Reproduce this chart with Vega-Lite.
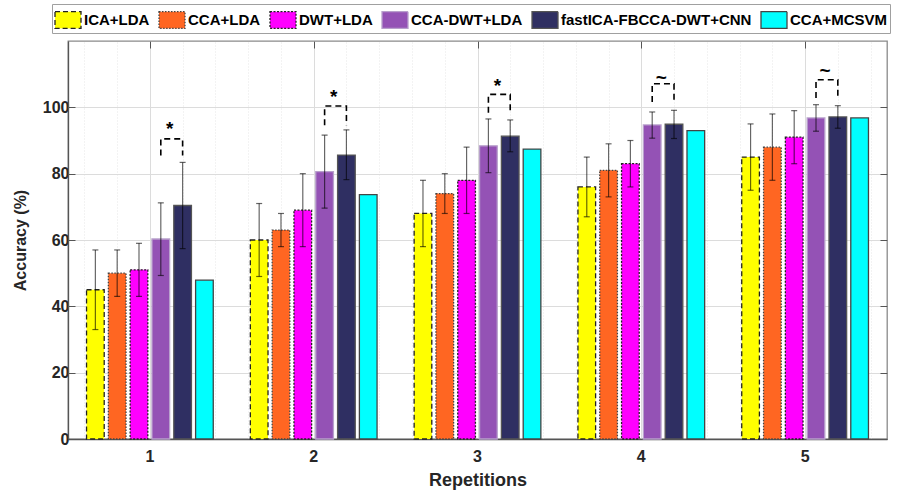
{
  "$schema": "https://vega.github.io/schema/vega-lite/v6.json",
  "width": 819,
  "height": 398,
  "autosize": "none",
  "padding": {"left": 68, "top": 41, "right": 10, "bottom": 52},
  "background": "white",
  "config": {
    "font": "Liberation Sans",
    "view": {"stroke": "#8a8a8a", "strokeWidth": 1.3},
    "axis": {"labelFont": "Liberation Sans", "titleFont": "Liberation Sans", "labelFontWeight": "bold", "titleFontWeight": "bold", "labelColor": "#262626", "titleColor": "#262626", "domainColor": "#8a8a8a", "domainWidth": 1.3, "tickColor": "#555555"},
    "legend": {"labelFont": "Liberation Sans", "labelFontWeight": "bold", "labelFontSize": 15, "labelColor": "#000000", "labelOffset": 2, "labelLimit": 400, "columnPadding": 6, "padding": 2,
      "symbolType": "M-1,-0.64H1V0.64H-1Z", "symbolSize": 676, "symbolStrokeWidth": 1.3, "strokeColor": "#a0a0a0", "fillColor": "white"}
  },
  "datasets": {
    "bars": [
      {"rep": 1, "method": "ICA+LDA", "acc": 45, "lo": 33, "hi": 57},
      {"rep": 1, "method": "CCA+LDA", "acc": 50, "lo": 43, "hi": 57},
      {"rep": 1, "method": "DWT+LDA", "acc": 51, "lo": 43, "hi": 59},
      {"rep": 1, "method": "CCA-DWT+LDA", "acc": 60.3, "lo": 49.3, "hi": 71.2},
      {"rep": 1, "method": "fastICA-FBCCA-DWT+CNN", "acc": 70.4, "lo": 57.4, "hi": 83.4},
      {"rep": 1, "method": "CCA+MCSVM", "acc": 47.9, "lo": null, "hi": null},
      {"rep": 2, "method": "ICA+LDA", "acc": 60, "lo": 49, "hi": 71},
      {"rep": 2, "method": "CCA+LDA", "acc": 63, "lo": 58, "hi": 68},
      {"rep": 2, "method": "DWT+LDA", "acc": 69, "lo": 58, "hi": 80},
      {"rep": 2, "method": "CCA-DWT+LDA", "acc": 80.6, "lo": 69.6, "hi": 91.6},
      {"rep": 2, "method": "fastICA-FBCCA-DWT+CNN", "acc": 85.6, "lo": 78.2, "hi": 93.2},
      {"rep": 2, "method": "CCA+MCSVM", "acc": 73.7, "lo": null, "hi": null},
      {"rep": 3, "method": "ICA+LDA", "acc": 68, "lo": 58, "hi": 78},
      {"rep": 3, "method": "CCA+LDA", "acc": 74, "lo": 68, "hi": 80},
      {"rep": 3, "method": "DWT+LDA", "acc": 78, "lo": 68, "hi": 88},
      {"rep": 3, "method": "CCA-DWT+LDA", "acc": 88.4, "lo": 80.3, "hi": 96.5},
      {"rep": 3, "method": "fastICA-FBCCA-DWT+CNN", "acc": 91.3, "lo": 86.6, "hi": 96.2},
      {"rep": 3, "method": "CCA+MCSVM", "acc": 87.4, "lo": null, "hi": null},
      {"rep": 4, "method": "ICA+LDA", "acc": 76, "lo": 67, "hi": 85},
      {"rep": 4, "method": "CCA+LDA", "acc": 81, "lo": 73, "hi": 89},
      {"rep": 4, "method": "DWT+LDA", "acc": 83, "lo": 76, "hi": 90},
      {"rep": 4, "method": "CCA-DWT+LDA", "acc": 94.7, "lo": 90.7, "hi": 98.6},
      {"rep": 4, "method": "fastICA-FBCCA-DWT+CNN", "acc": 94.9, "lo": 90.6, "hi": 99.1},
      {"rep": 4, "method": "CCA+MCSVM", "acc": 93, "lo": null, "hi": null},
      {"rep": 5, "method": "ICA+LDA", "acc": 85, "lo": 75, "hi": 95},
      {"rep": 5, "method": "CCA+LDA", "acc": 88, "lo": 78, "hi": 98},
      {"rep": 5, "method": "DWT+LDA", "acc": 91, "lo": 83, "hi": 99},
      {"rep": 5, "method": "CCA-DWT+LDA", "acc": 96.8, "lo": 92.8, "hi": 100.8},
      {"rep": 5, "method": "fastICA-FBCCA-DWT+CNN", "acc": 97.1, "lo": 93.7, "hi": 100.5},
      {"rep": 5, "method": "CCA+MCSVM", "acc": 96.8, "lo": null, "hi": null}
    ],
    "brackets": [
      {"rep": 1, "method": "CCA-DWT+LDA", "by": 85.5, "ord": 1},
      {"rep": 1, "method": "CCA-DWT+LDA", "by": 90.5, "ord": 2},
      {"rep": 1, "method": "fastICA-FBCCA-DWT+CNN", "by": 90.5, "ord": 3},
      {"rep": 1, "method": "fastICA-FBCCA-DWT+CNN", "by": 85.5, "ord": 4},
      {"rep": 2, "method": "CCA-DWT+LDA", "by": 94.6, "ord": 1},
      {"rep": 2, "method": "CCA-DWT+LDA", "by": 100.4, "ord": 2},
      {"rep": 2, "method": "fastICA-FBCCA-DWT+CNN", "by": 100.4, "ord": 3},
      {"rep": 2, "method": "fastICA-FBCCA-DWT+CNN", "by": 94.6, "ord": 4},
      {"rep": 3, "method": "CCA-DWT+LDA", "by": 98.4, "ord": 1},
      {"rep": 3, "method": "CCA-DWT+LDA", "by": 103.9, "ord": 2},
      {"rep": 3, "method": "fastICA-FBCCA-DWT+CNN", "by": 103.9, "ord": 3},
      {"rep": 3, "method": "fastICA-FBCCA-DWT+CNN", "by": 98.4, "ord": 4},
      {"rep": 4, "method": "CCA-DWT+LDA", "by": 101.6, "ord": 1},
      {"rep": 4, "method": "CCA-DWT+LDA", "by": 107.1, "ord": 2},
      {"rep": 4, "method": "fastICA-FBCCA-DWT+CNN", "by": 107.1, "ord": 3},
      {"rep": 4, "method": "fastICA-FBCCA-DWT+CNN", "by": 101.6, "ord": 4},
      {"rep": 5, "method": "CCA-DWT+LDA", "by": 102.8, "ord": 1},
      {"rep": 5, "method": "CCA-DWT+LDA", "by": 108.3, "ord": 2},
      {"rep": 5, "method": "fastICA-FBCCA-DWT+CNN", "by": 108.3, "ord": 3},
      {"rep": 5, "method": "fastICA-FBCCA-DWT+CNN", "by": 102.8, "ord": 4}
    ],
    "marks": [
      {"rep": 1, "method": "CCA-DWT+LDA", "my": 94.7, "sym": "*"},
      {"rep": 2, "method": "CCA-DWT+LDA", "my": 104.2, "sym": "*"},
      {"rep": 3, "method": "CCA-DWT+LDA", "my": 107.6, "sym": "*"},
      {"rep": 4, "method": "CCA-DWT+LDA", "my": 109.9, "sym": "~"},
      {"rep": 5, "method": "CCA-DWT+LDA", "my": 112.1, "sym": "~"}
    ]
  },
  "layer": [
    {
      "data": {"name": "bars"},
      "mark": {"type": "point", "opacity": 0},
      "encoding": {
        "x": {"field": "rep", "type": "quantitative", "scale": {"domain": [0.5, 5.5], "nice": false, "zero": false},
          "axis": {"orient": "top", "title": null, "labels": false, "domain": false,
            "values": [0.6, 0.8, 1, 1.2, 1.4, 1.6, 1.8, 2, 2.2, 2.4, 2.6, 2.8, 3, 3.2, 3.4, 3.6, 3.8, 4, 4.2, 4.4, 4.6, 4.8, 5, 5.2, 5.4],
            "grid": true,
            "gridColor": {"condition": {"test": "abs(datum.value - round(datum.value)) < 0.01", "value": "#dcdcdc"}, "value": "#e6e6e6"},
            "gridDash": {"condition": {"test": "abs(datum.value - round(datum.value)) < 0.01", "value": []}, "value": [1, 2]},
            "tickSize": {"condition": {"test": "abs(datum.value - round(datum.value)) < 0.01", "value": -7}, "value": 0},
            "ticks": true}},
        "y": {"field": "acc", "type": "quantitative", "scale": {"domain": [0, 120], "nice": false},
          "axis": {"orient": "right", "title": null, "labels": false, "domain": false, "grid": false,
            "values": [0, 20, 40, 60, 80, 100], "ticks": true, "tickSize": -7}}
      }
    },
    {
      "encoding": {
        "x": {"field": "rep", "type": "nominal", "scale": {"paddingInner": 0, "paddingOuter": 0},
          "axis": {"title": "Repetitions", "labelAngle": 0, "labelFontSize": 16, "titleFontSize": 18, "labelPadding": 9, "titlePadding": 7, "ticks": false, "grid": false, "domainColor": "#555555"}},
        "xOffset": {"field": "method", "type": "nominal",
          "scale": {"domain": ["ICA+LDA", "CCA+LDA", "DWT+LDA", "CCA-DWT+LDA", "fastICA-FBCCA-DWT+CNN", "CCA+MCSVM"], "paddingInner": 0.19, "paddingOuter": 0.85}}
      },
      "layer": [
        {
          "data": {"name": "bars"},
          "mark": {"type": "bar", "strokeWidth": 1.3},
          "encoding": {
            "y": {"field": "acc", "type": "quantitative", "scale": {"domain": [0, 120], "nice": false},
              "axis": {"title": "Accuracy (%)", "titleFontSize": 16, "labelFontSize": 16, "labelPadding": 6, "titlePadding": 14,
                "values": [0, 5, 10, 15, 20, 25, 30, 35, 40, 45, 50, 55, 60, 65, 70, 75, 80, 85, 90, 95, 100, 105, 110, 115],
                "labelExpr": "datum.value % 20 === 0 ? datum.label : ''",
                "grid": true,
                "gridColor": {"condition": {"test": "datum.value % 20 === 0", "value": "#dcdcdc"}, "value": "#e6e6e6"},
                "gridDash": {"condition": {"test": "datum.value % 20 === 0", "value": []}, "value": [1, 2]},
                "tickSize": {"condition": {"test": "datum.value % 20 === 0", "value": -7}, "value": 0},
                "domainColor": "#555555"}},
            "color": {"field": "method", "type": "nominal",
              "scale": {"domain": ["ICA+LDA", "CCA+LDA", "DWT+LDA", "CCA-DWT+LDA", "fastICA-FBCCA-DWT+CNN", "CCA+MCSVM"],
                "range": ["#ffff00", "#ff6622", "#ff00ff", "#9452b5", "#2f2f62", "#00ffff"]},
              "legend": {"orient": "none", "legendX": -16, "legendY": -37, "direction": "horizontal", "columns": 6, "title": null}},
            "stroke": {"field": "method", "type": "nominal",
              "scale": {"domain": ["ICA+LDA", "CCA+LDA", "DWT+LDA", "CCA-DWT+LDA", "fastICA-FBCCA-DWT+CNN", "CCA+MCSVM"],
                "range": ["#222222", "#444444", "#222222", "#b8a0cc", "#555555", "#444444"]},
              "legend": {"orient": "none", "legendX": -16, "legendY": -37, "direction": "horizontal", "columns": 6, "title": null}},
            "strokeDash": {"field": "method", "type": "nominal",
              "scale": {"domain": ["ICA+LDA", "CCA+LDA", "DWT+LDA", "CCA-DWT+LDA", "fastICA-FBCCA-DWT+CNN", "CCA+MCSVM"],
                "range": [[5, 3], [1.5, 1.5], [2, 1.5], [1, 0], [1, 0], [1, 0]]},
              "legend": {"orient": "none", "legendX": -16, "legendY": -37, "direction": "horizontal", "columns": 6, "title": null}}
          }
        },
        {
          "data": {"name": "bars"},
          "transform": [{"filter": "datum.lo != null"}],
          "mark": {"type": "rule", "color": "#000000", "opacity": 0.6, "strokeWidth": 1.2},
          "encoding": {
            "y": {"field": "lo", "type": "quantitative"},
            "y2": {"field": "hi"}
          }
        },
        {
          "data": {"name": "bars"},
          "transform": [{"filter": "datum.lo != null"}, {"fold": ["lo", "hi"], "as": ["end", "val"]}],
          "mark": {"type": "tick", "color": "#000000", "opacity": 0.6, "thickness": 1.2, "size": 6},
          "encoding": {
            "y": {"field": "val", "type": "quantitative"}
          }
        },
        {
          "data": {"name": "brackets"},
          "mark": {"type": "line", "color": "#000000", "strokeWidth": 1.6, "strokeDash": [6, 4]},
          "encoding": {
            "y": {"field": "by", "type": "quantitative"},
            "detail": {"field": "rep"},
            "order": {"field": "ord"}
          }
        },
        {
          "data": {"name": "marks"},
          "mark": {"type": "text", "fontSize": 19, "fontWeight": "bold", "dx": 9, "dy": 4, "baseline": "middle", "color": "#000000"},
          "encoding": {
            "y": {"field": "my", "type": "quantitative"},
            "text": {"field": "sym"}
          }
        }
      ]
    }
  ],
  "resolve": {"scale": {"x": "independent"}, "axis": {"x": "independent", "y": "independent"}}
}
